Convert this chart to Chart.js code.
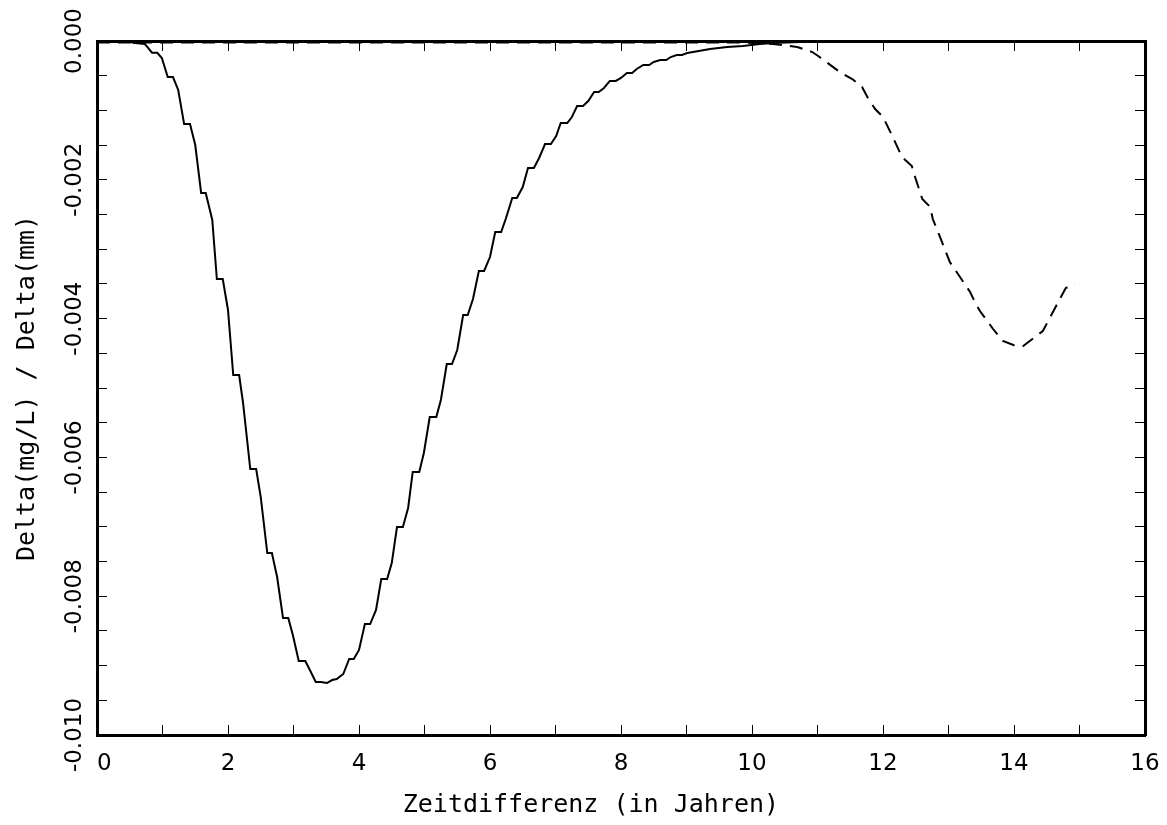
<!DOCTYPE html>
<html>
<head>
<meta charset="utf-8">
<title>Delta / Zeitdifferenz</title>
<script src="https://cdn.jsdelivr.net/npm/chart.js@4.4.1/dist/chart.umd.min.js"></script>
<style>
  html, body { margin: 0; padding: 0; background: #fff; }
  #wrap { width: 1167px; height: 825px; }
</style>
</head>
<body>
<div id="wrap"><canvas id="chart" width="1167" height="825"></canvas></div>
<script>
// Daten
const solidX = [
  0, 0.5, 0.55, 0.73, 0.84, 0.92, 0.99, 1.08, 1.16, 1.24,
  1.33, 1.42, 1.5, 1.59, 1.66, 1.76, 1.83, 1.92, 2.0, 2.08,
  2.17, 2.23, 2.34, 2.43, 2.5, 2.6, 2.67, 2.75, 2.84, 2.92,
  2.99, 3.08, 3.18, 3.25, 3.34, 3.42, 3.51, 3.59, 3.66, 3.76,
  3.85, 3.92, 4.0, 4.09, 4.17, 4.26, 4.34, 4.43, 4.5, 4.58,
  4.67, 4.75, 4.82, 4.92, 4.99, 5.08, 5.18, 5.25, 5.34, 5.42,
  5.5, 5.59, 5.66, 5.74, 5.83, 5.91, 6.0, 6.08, 6.17, 6.24,
  6.34, 6.41, 6.5, 6.58, 6.67, 6.75, 6.84, 6.93, 7.01, 7.08,
  7.18, 7.25, 7.33, 7.42, 7.5, 7.59, 7.66, 7.74, 7.83, 7.92,
  8.0, 8.09, 8.17, 8.24, 8.34, 8.43, 8.5, 8.6, 8.69, 8.76,
  8.85, 8.93, 9.01, 9.1, 9.36, 9.62, 9.86, 10.12, 10.32, 10.73,
  11.5, 12.5, 13.5, 15
];
const solidY = [
  0, 0, -0.000024, -0.000043, -0.000169, -0.000169, -0.000245, -0.000519, -0.000519, -0.000706,
  -0.001196, -0.001196, -0.001499, -0.00219, -0.00219, -0.002579, -0.00343, -0.00343, -0.003876, -0.004813,
  -0.004813, -0.005216, -0.006167, -0.006167, -0.006571, -0.007378, -0.007378, -0.007724, -0.008314, -0.008314,
  -0.008559, -0.008934, -0.008934, -0.009064, -0.009237, -0.009237, -0.009251, -0.009208, -0.009193, -0.009121,
  -0.008905, -0.008905, -0.008775, -0.008401, -0.008401, -0.008199, -0.007753, -0.007753, -0.007522, -0.007003,
  -0.007003, -0.006729, -0.00621, -0.00621, -0.005937, -0.005418, -0.005418, -0.005173, -0.004654, -0.004654,
  -0.004453, -0.003948, -0.003948, -0.003718, -0.003314, -0.003314, -0.003113, -0.002752, -0.002752, -0.002565,
  -0.002262, -0.002262, -0.002104, -0.00183, -0.00183, -0.001686, -0.001484, -0.001484, -0.001369, -0.001182,
  -0.001182, -0.001095, -0.000937, -0.000937, -0.000865, -0.000735, -0.000735, -0.000677, -0.000576, -0.000576,
  -0.000533, -0.000461, -0.000461, -0.000403, -0.000346, -0.000346, -0.000303, -0.000274, -0.000274, -0.000231,
  -0.000202, -0.000202, -0.000173, -0.000159, -0.000115, -0.000086, -0.000072, -0.000043, -0.000029, -0.000014,
  -0.000007, -0.000003, -0.000001, 0
];
const dashX = [
  0, 9.82, 10.32, 10.69, 10.92, 11.01, 11.34, 11.53, 11.68, 11.77,
  11.88, 12.0, 12.15, 12.29, 12.44, 12.49, 12.6, 12.72, 12.76, 12.87,
  13.02, 13.33, 13.41, 13.48, 13.68, 13.83, 13.99, 14.14, 14.44, 14.79,
  14.93
];
const dashY = [
  -0.000022, -0.000022, -0.000043, -0.000086, -0.000159, -0.000216, -0.000447, -0.000548, -0.000663, -0.000821,
  -0.00098, -0.001095, -0.001384, -0.001672, -0.001801, -0.00196, -0.002277, -0.002392, -0.002565, -0.002824,
  -0.003184, -0.003617, -0.003775, -0.003891, -0.00415, -0.004323, -0.004381, -0.004395, -0.004179, -0.003559,
  -0.003502
];
const xRange = [0, 16];
const yRange = [-0.010, 0.000];
// Leerzeichen am Ende: Titel sitzt in der Vorlage etwas links der Mitte
const xTitle = 'Zeitdifferenz (in Jahren)    ';
const yTitle = 'Delta(mg/L) / Delta(mm)';

const TICK_FONT = { family: '"DejaVu Sans", sans-serif', size: 23 };
const TITLE_FONT = { family: '"DejaVu Sans Mono", monospace', size: 25 };

function pts(xs, ys) {
  return xs.map((x, i) => ({ x, y: ys[i] }));
}

// Ticks nach innen, dicker Rahmen
const grid = {
  drawOnChartArea: false,
  drawTicks: true,
  tickLength: -10,
  color: '#000',
  lineWidth: 1
};
const border = { display: true, color: '#000', width: 3 };

// Feste Rahmenmaße, keine automatische Label-Polsterung
function fixBox(w, h) {
  return s => {
    if (w != null) s.width = w;
    if (h != null) s.height = h;
    s.paddingLeft = 0;
    s.paddingRight = 0;
    s.paddingTop = 0;
    s.paddingBottom = 0;
  };
}

new Chart(document.getElementById('chart'), {
  type: 'line',
  data: {
    datasets: [
      {
        data: pts(solidX, solidY),
        borderColor: '#000',
        borderWidth: 2,
        pointRadius: 0,
        tension: 0,
        fill: false
      },
      {
        data: pts(dashX, dashY),
        borderColor: '#000',
        borderWidth: 2,
        borderDash: [13, 8],
        pointRadius: 0,
        tension: 0,
        fill: false
      }
    ]
  },
  options: {
    responsive: false,
    animation: false,
    layout: { padding: 0 },
    plugins: { legend: { display: false }, tooltip: { enabled: false } },
    scales: {
      x: {
        type: 'linear',
        position: 'bottom',
        min: xRange[0],
        max: xRange[1],
        grid,
        border,
        ticks: {
          stepSize: 1,
          autoSkip: false,
          maxRotation: 0,
          color: '#000',
          font: TICK_FONT,
          padding: 25,
          callback: v => (v % 2 === 0 ? (v === 0 ? '  0' : String(v)) : '')
        },
        title: { display: true, text: xTitle, color: '#000', font: TITLE_FONT, padding: { top: 0, bottom: 5 } },
        afterFit: fixBox(null, 90)
      },
      x2: {
        type: 'linear',
        position: 'top',
        min: xRange[0],
        max: xRange[1],
        grid,
        border,
        ticks: { display: false, stepSize: 1, autoSkip: false },
        afterFit: fixBox(null, 41)
      },
      y: {
        type: 'linear',
        position: 'left',
        min: yRange[0],
        max: yRange[1],
        grid,
        border,
        ticks: {
          stepSize: 0.0005,
          maxTicksLimit: 100,
          autoSkip: false,
          minRotation: 90,
          maxRotation: 90,
          crossAlign: 'center',
          padding: -5,
          color: '#000',
          font: TICK_FONT,
          callback: v => {
            const k = v / 0.002;
            return Math.abs(k - Math.round(k)) < 1e-6 ? v.toFixed(3) : '';
          }
        },
        title: { display: true, text: yTitle, color: '#000', font: TITLE_FONT, padding: { top: 12, bottom: 0 } },
        afterFit: fixBox(97, null)
      },
      y2: {
        type: 'linear',
        position: 'right',
        min: yRange[0],
        max: yRange[1],
        grid,
        border,
        ticks: { display: false, stepSize: 0.0005, maxTicksLimit: 100, autoSkip: false },
        afterFit: fixBox(22, null)
      }
    }
  }
});
</script>
</body>
</html>
